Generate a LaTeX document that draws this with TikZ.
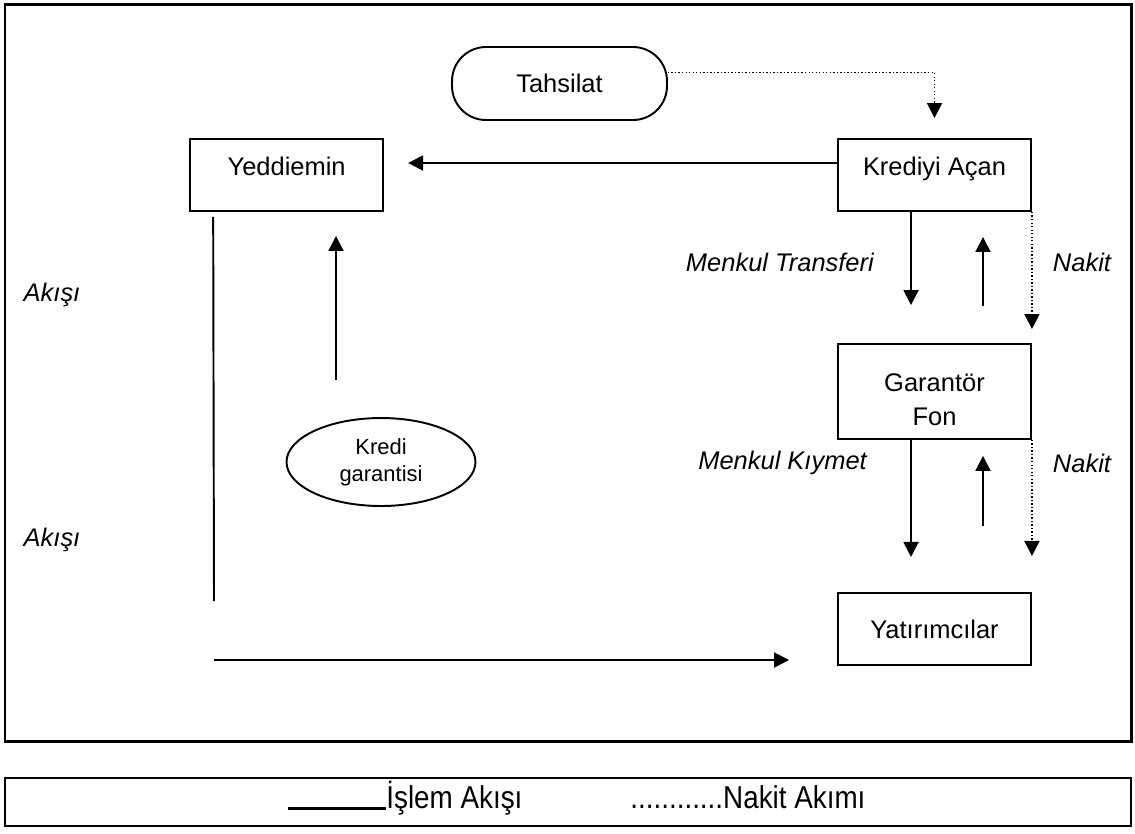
\documentclass[tikz,border=0pt]{standalone}
\usepackage{fontspec}
\setmainfont{Liberation Sans}
\newfontfamily\legendfont{Liberation Sans}[FakeStretch=0.88]
\usetikzlibrary{positioning,arrows.meta,shapes.geometric}

\begin{document}
\begin{tikzpicture}[x=0.02cm, y=-0.02cm, node distance=2cm, auto,
        font=\fontsize{14.5}{17}\selectfont,
        block/.style={draw, line width=1.1pt, rectangle, minimum width=3.86cm, minimum height=1.44cm, inner sep=0pt},
        flow/.style={-{Triangle[length=0.3cm, width=0.3cm]}, line width=1.1pt},
        cash/.style={flow, dash pattern=on 0.8pt off 1.2pt},
        side/.style={font=\fontsize{14.5}{17}\selectfont\itshape}]

        \useasboundingbox (0,0) rectangle (1135,833);

        % Frames
        \draw[line width=1.7pt] (5,4) rectangle (1131,741);
        \draw[line width=1.4pt] (5,778) rectangle (1131,826);

        % Krediyi Acan and Yeddiemin
        \node[block, text height=0.37cm, text depth=0.36cm] (kredi) at (934.5,175) {Krediyi Açan};
        \node[block, text height=0.37cm, text depth=0.36cm, left of=kredi, node distance=12.96cm] (yeddiemin) {Yeddiemin};
        \draw[flow] ([yshift=0.24cm]kredi.west) -- ([yshift=0.24cm, xshift=0.48cm]yeddiemin.east);

        % Tahsilat
        \node[draw, line width=1.1pt, rounded corners=0.68cm, minimum width=4.3cm, minimum height=1.46cm] (tahsilat) at (559.5,83.5) {Tahsilat};
        \draw[cash, shorten >=0.4cm] ([yshift=0.22cm]tahsilat.east) -| (kredi.north);

        % Garantor Fon
        \node[block, minimum height=1.9cm, align=center, text height=1.35cm, text depth=0pt, font=\fontsize{14.5}{19.3}\selectfont, below of=kredi, node distance=4.33cm] (garantor) {Garantör\\Fon};
        \draw[flow, shorten >=0.76cm] ([xshift=-0.47cm]kredi.south) -- ([xshift=-0.47cm]garantor.north);
        \draw[flow, shorten <=0.74cm, shorten >=0.5cm] ([xshift=0.97cm]garantor.north) -- ([xshift=0.97cm]kredi.south);
        \draw[cash, shorten >=0.28cm] (kredi.south east) -- (garantor.north east);
        \node[side, anchor=east] (transfer) at (880,262) {Menkul Transferi};
        \node[side] (nakit1) at (1082,262) {Nakit};

        % Yatirimcilar
        \node[block, below of=garantor, node distance=4.75cm] (yatirim) {Yatırımcılar};
        \draw[flow, shorten >=0.7cm] ([xshift=-0.47cm]garantor.south) -- ([xshift=-0.47cm]yatirim.north);
        \draw[flow, shorten <=1.32cm, shorten >=0.32cm] ([xshift=0.97cm]yatirim.north) -- ([xshift=0.97cm]garantor.south);
        \draw[cash, shorten >=0.72cm] (garantor.south east) -- (yatirim.north east);
        \node[side, anchor=east] (kiymet) at (873,463) {Menkul Kıymet};
        \node[side] (nakit2) at (1082,463) {Nakit};

        % Kredi garantisi
        \node[draw, ellipse, line width=1.1pt, minimum width=3.78cm, minimum height=1.76cm, inner sep=0pt, align=center, font=\fontsize{12.5}{15.3}\selectfont] (garanti) at (381,462) {Kredi\\garantisi};
        \coordinate (garfoot) at (336,380);
        \draw[flow, shorten >=0.48cm] (garfoot) -- (garfoot |- yeddiemin.south);

        % Flow from Yeddiemin to investors
        \coordinate (flowend) at (214,601);
        \coordinate (flowstart) at (214,660);
        \draw[line width=1.1pt] ([xshift=0.48cm, yshift=-0.1cm]yeddiemin.south west) -- (flowend);
        \draw[flow] (flowstart) -- ([xshift=-0.96cm]yatirim.west |- flowstart);
        \node[side] (akis1) at (52,295) {Akışı};
        \node[side] (akis2) at (52,540) {Akışı};

        % Legend
        \node[anchor=base west, inner sep=0pt, font=\legendfont\fontsize{18}{20}\selectfont] (islem) at (386,808) {İşlem Akışı};
        \coordinate (lineleft) at (288,808);
        \draw[line width=1.7pt] (lineleft) -- (islem.base west);
        \node[anchor=base west, inner sep=0pt, font=\legendfont\fontsize{18}{20}\selectfont] (nakitakim) at (630,808) {............Nakit Akımı};

\end{tikzpicture}
\end{document}
